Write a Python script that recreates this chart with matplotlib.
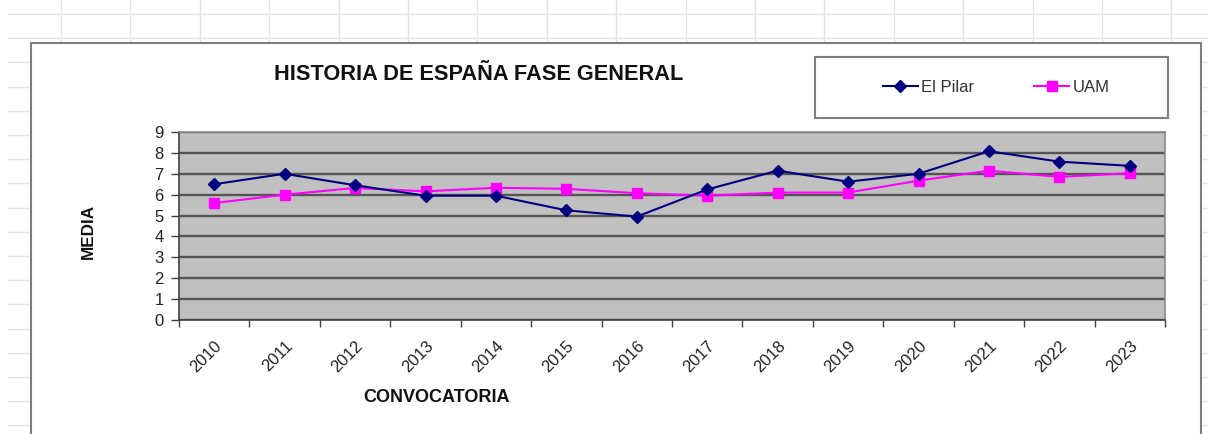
import numpy as np
import matplotlib
matplotlib.use("Agg")
import matplotlib.pyplot as plt
from matplotlib.patches import Rectangle
from matplotlib.lines import Line2D

plt.rcParams["font.family"] = ["Liberation Sans", "DejaVu Sans"]

# Data
years = ["2010", "2011", "2012", "2013", "2014", "2015", "2016",
         "2017", "2018", "2019", "2020", "2021", "2022", "2023"]
el_pilar = [6.5, 7.0, 6.45, 5.95, 5.95, 5.25, 4.95,
            6.25, 7.15, 6.62, 7.0, 8.08, 7.58, 7.38]
uam = [5.6, 6.0, 6.32, 6.16, 6.33, 6.28, 6.07,
       5.95, 6.1, 6.1, 6.67, 7.15, 6.85, 7.03]

W, H = 1208, 434
fig = plt.figure(figsize=(W / 100, H / 100), dpi=100)


def fx(px):
    return px / W


def fy(py):
    return 1 - py / H


# spreadsheet grid behind the chart
sheet = "#e4e4e4"
for y in np.arange(14, H, 24.2):
    fig.add_artist(Line2D([fx(8), 1], [fy(y), fy(y)], color=sheet, lw=1, zorder=0))
for x in np.arange(61, W, 69.4):
    fig.add_artist(Line2D([fx(x), fx(x)], [fy(0), fy(43)], color=sheet, lw=1, zorder=0))

# chart area
fig.add_artist(Rectangle((fx(31), fy(440)), fx(1201 - 31), fy(43) - fy(440),
                         facecolor="white", edgecolor="#7f7f7f", lw=1.5, zorder=1))

# plot area
left, right, top, bottom = 179, 1165, 132, 320
ax = fig.add_axes([fx(left), fy(bottom), fx(right - left), fy(top) - fy(bottom)], zorder=2)
ax.set_facecolor("#c0c0c0")

x = np.arange(len(years))
ax.plot(x, el_pilar, color="#000080", lw=1.5, marker="D", ms=6, label="El Pilar", zorder=4)
ax.plot(x, uam, color="#ff00ff", lw=1.5, marker="s", ms=7.5, label="UAM", zorder=3)

ax.set_xlim(-0.5, len(years) - 0.5)
ax.set_ylim(0, 9)
ax.set_yticks(range(10))
ax.tick_params(axis="y", labelsize=12, length=6, width=1, color="#404040", pad=5,
               labelcolor="#222222")
ax.set_xticks(np.arange(-0.5, len(years)), minor=False)
ax.set_xticklabels([])
ax.set_xticks(x, minor=True)
ax.set_xticklabels(years, minor=True, rotation=45, ha="right", va="top",
                   rotation_mode="anchor", fontsize=12, color="#222222")
ax.tick_params(axis="x", which="major", length=5, width=1, color="#404040")
ax.tick_params(axis="x", which="minor", length=0, pad=13)

ax.yaxis.grid(True, color="#555555", lw=1.7)
ax.set_axisbelow(True)
for side in ["left", "bottom"]:
    ax.spines[side].set_color("#404040")
    ax.spines[side].set_linewidth(1.2)
for side in ["top", "right"]:
    ax.spines[side].set_color("#8a8a8a")
    ax.spines[side].set_linewidth(1.2)

# texts
fig.text(fx(479), fy(74), "HISTORIA DE ESPAÑA FASE GENERAL", ha="center", va="center",
         fontsize=15.7, fontweight="bold", color="#111111")
fig.text(fx(88), fy(231), "MEDIA", rotation=90, ha="center", va="center",
         fontsize=12.3, fontweight="bold", color="#111111")
fig.text(fx(436), fy(397), "CONVOCATORIA", ha="center", va="center",
         fontsize=13, fontweight="bold", color="#111111")

# legend box
fig.add_artist(Rectangle((fx(815), fy(118)), fx(1168 - 815), fy(57) - fy(118),
                         facecolor="white", edgecolor="#7f7f7f", lw=1.5, zorder=3))
leg = fig.legend(loc="center", bbox_to_anchor=(fx(996), fy(87)), ncol=2, frameon=False,
                 fontsize=12, handlelength=2.1, columnspacing=3.6, handletextpad=0.2)
leg.set_zorder(4)
for t in leg.get_texts():
    t.set_color("#333333")

fig.savefig("out.png", dpi=100)
